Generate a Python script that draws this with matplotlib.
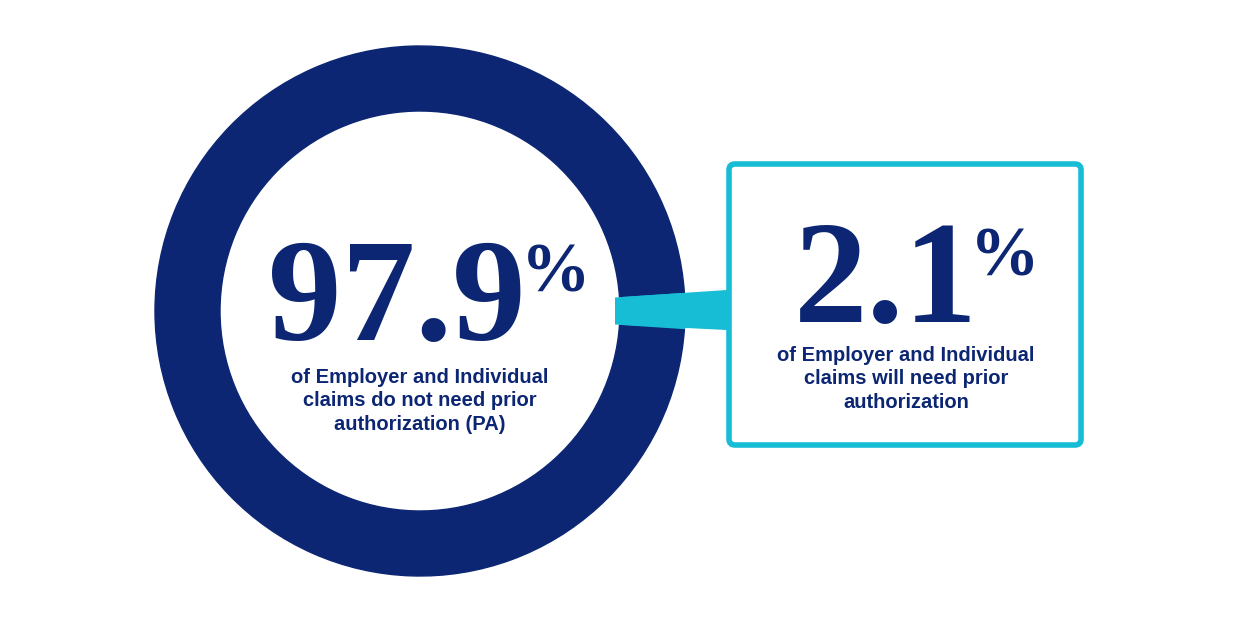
import matplotlib
matplotlib.use("Agg")
import matplotlib.pyplot as plt
from matplotlib.patches import Wedge, Polygon, FancyBboxPatch

shares = [97.9, 2.1]
big_labels = ["97.9", "2.1"]
captions = ["of Employer and Individual\nclaims do not need prior\nauthorization (PA)",
            "of Employer and Individual\nclaims will need prior\nauthorization"]
NAVY = "#0c2673"
CYAN = "#17bcd5"

fig = plt.figure(figsize=(12.44, 6.28), dpi=100)
ax = fig.add_axes([0, 0, 1, 1])
ax.set_xlim(0, 1244)
ax.set_ylim(628, 0)
ax.axis("off")

cx, cy, R, w = 420, 311, 265, 65
small = shares[1] / 100 * 360
t1, t2 = -small / 2, small / 2
ax.add_patch(Wedge((cx, cy), R, t2, 360 + t1, width=w, color=NAVY))
ax.add_patch(Wedge((cx, cy), R, t1, t2, width=w, color=CYAN))
ax.add_patch(Polygon([(cx + 195, 297.5), (727, 290), (727, 330), (cx + 195, 324.5)],
                     closed=True, color=CYAN, lw=0))
ax.add_patch(FancyBboxPatch((729, 164), 352, 281, boxstyle="round,pad=0,rounding_size=6",
                            fill=False, ec=CYAN, lw=4))

serif = "Liberation Serif"
ax.text(397, 340, big_labels[0], fontsize=106, fontweight="bold", family=serif,
        color=NAVY, ha="center", va="baseline")
ax.text(556, 292, "%", fontsize=50, fontweight="bold", family=serif,
        color=NAVY, ha="center", va="baseline")
ax.text(886, 322, big_labels[1], fontsize=106, fontweight="bold", family=serif,
        color=NAVY, ha="center", va="baseline")
ax.text(1005, 275, "%", fontsize=50, fontweight="bold", family=serif,
        color=NAVY, ha="center", va="baseline")

ax.text(420, 401, captions[0], fontsize=14.5, fontweight="bold", family="Liberation Sans",
        color=NAVY, ha="center", va="center", linespacing=1.3)
ax.text(906, 379, captions[1], fontsize=14.5, fontweight="bold", family="Liberation Sans",
        color=NAVY, ha="center", va="center", linespacing=1.3)

fig.savefig("out.png", dpi=100)
